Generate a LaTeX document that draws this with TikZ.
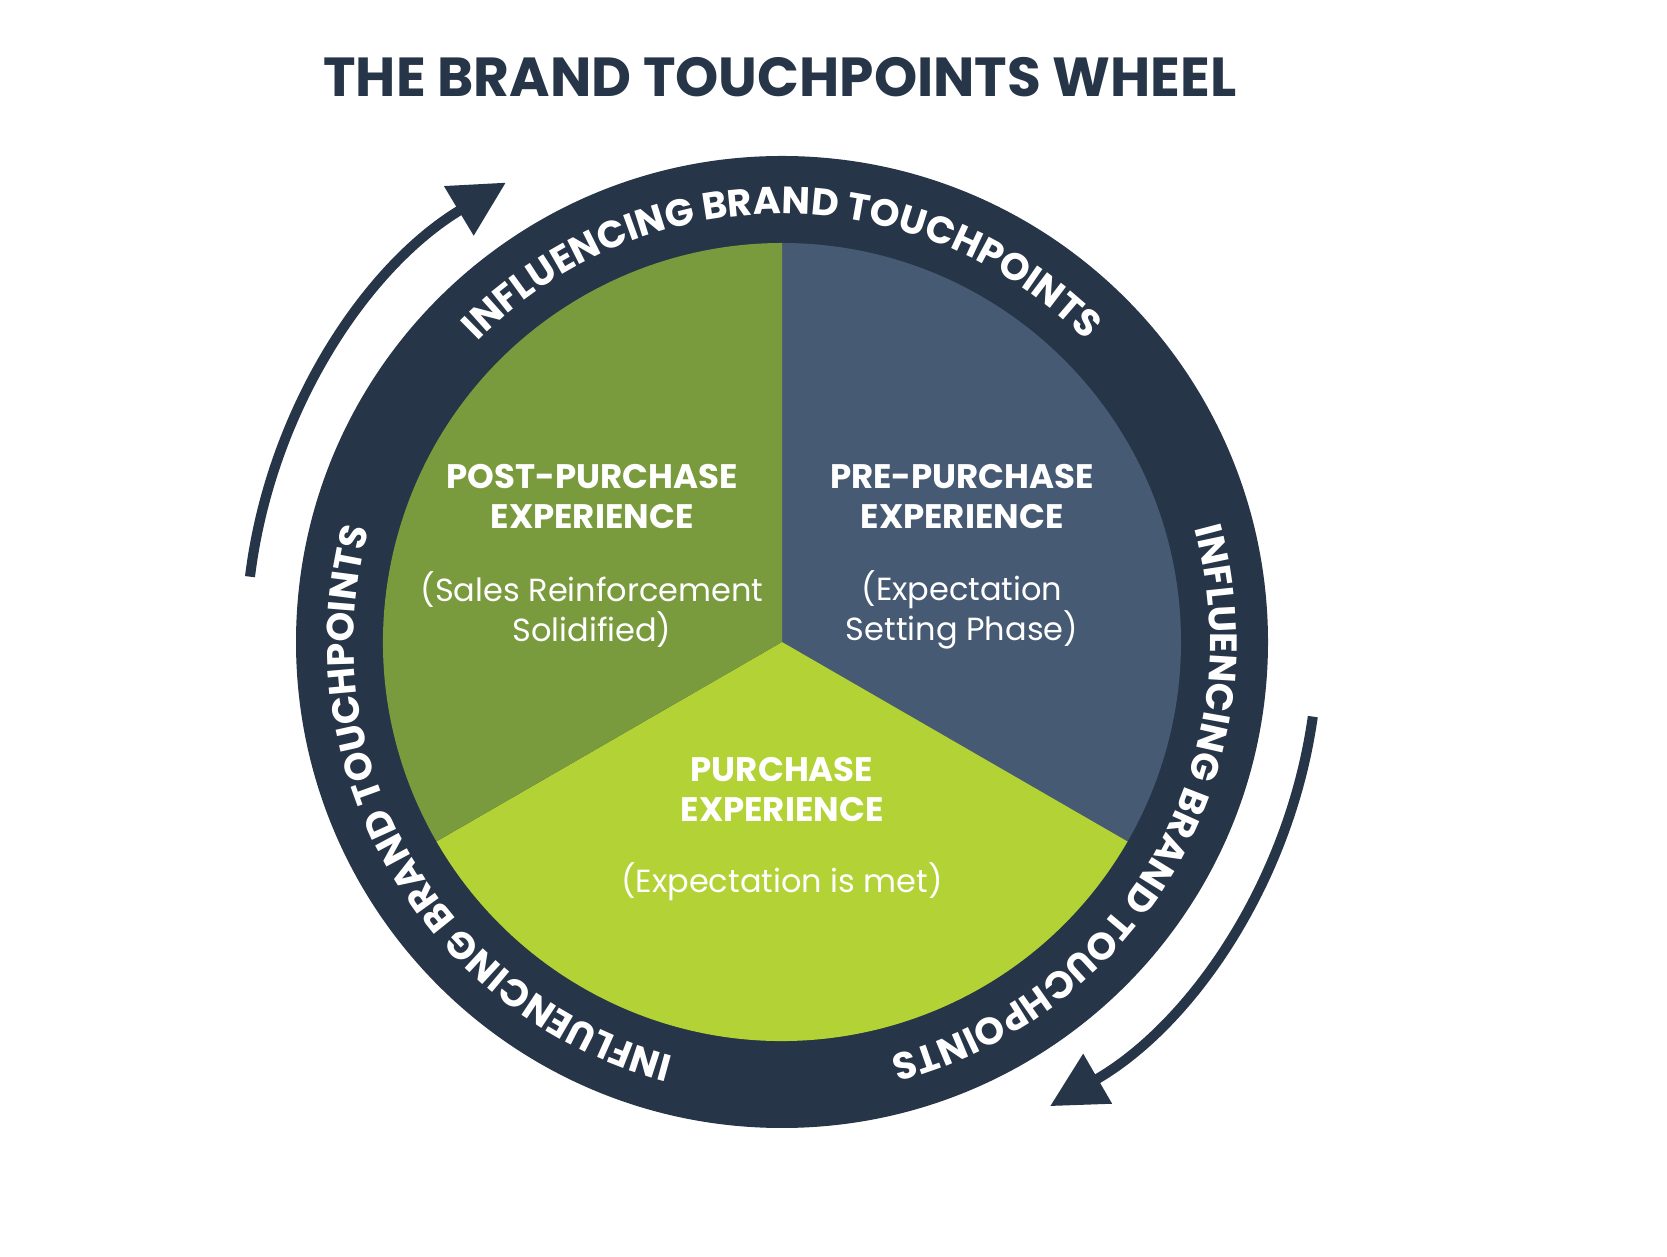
\documentclass[tikz,border=0pt]{standalone}
\usepackage{fontspec}
\setmainfont{Poppins}
\usetikzlibrary{decorations.text,arrows.meta,calc}
\definecolor{ring}{HTML}{263547}
\definecolor{slate}{HTML}{475A73}
\definecolor{olive}{HTML}{7A9A3E}
\definecolor{lime}{HTML}{B2D235}
\tikzset{
  head/.style={text=white,font=\fontsize{34}{40}\selectfont\bfseries,align=center},
  sub/.style={text=white,font=\fontsize{32}{40}\selectfont,align=center},
  flow/.style={ring,line width=10pt,-{Triangle[length=55pt,width=55pt]}}
}
\begin{document}
\begin{tikzpicture}[x=1pt,y=1pt]
\useasboundingbox[fill=white] (0,0) rectangle (1667,1257);
\coordinate (c) at (782,615);
\node[text=ring,font=\fontsize{55}{58}\selectfont\bfseries] (title) at (780,1180) {THE BRAND TOUCHPOINTS WHEEL};
\fill[ring] (c) circle[radius=486];
\fill[slate] (c) -- ++(90:399) arc[start angle=90,end angle=-30,radius=399] -- cycle;
\fill[lime] (c) -- ++(-30:399) arc[start angle=-30,end angle=-150,radius=399] -- cycle;
\fill[olive] (c) -- ++(-150:399) arc[start angle=-150,end angle=-270,radius=399] -- cycle;
\foreach \a in {90,-30,-150}{
  \path[decorate,decoration={text along path,text align=center,
    text={|\fontsize{38}{38}\selectfont\bfseries\color{white}|INFLUENCING BRAND TOUCHPOINTS}}]
    ($(c)+(\a+62:428)$) arc[start angle=\a+62,end angle=\a-62,radius=428];
}
\node[head] (post) at (592,761) {POST-PURCHASE\\EXPERIENCE};
\node[sub] (posts) at (592,647) {(Sales Reinforcement\\Solidified)};
\node[head] (pre) at (962,761) {PRE-PURCHASE\\EXPERIENCE};
\node[sub] (pres) at (962,647) {(Expectation\\Setting Phase)};
\node[head] (pur) at (782,468) {PURCHASE\\EXPERIENCE};
\node[sub] (purs) at (782,375) {(Expectation is met)};
\draw[flow] ($(c)+(173:536)$) arc[start angle=173,end angle=121,radius=536];
\draw[flow] ($(c)+(-8:536)$) arc[start angle=-8,end angle=-60,radius=536];
\end{tikzpicture}
\end{document}
